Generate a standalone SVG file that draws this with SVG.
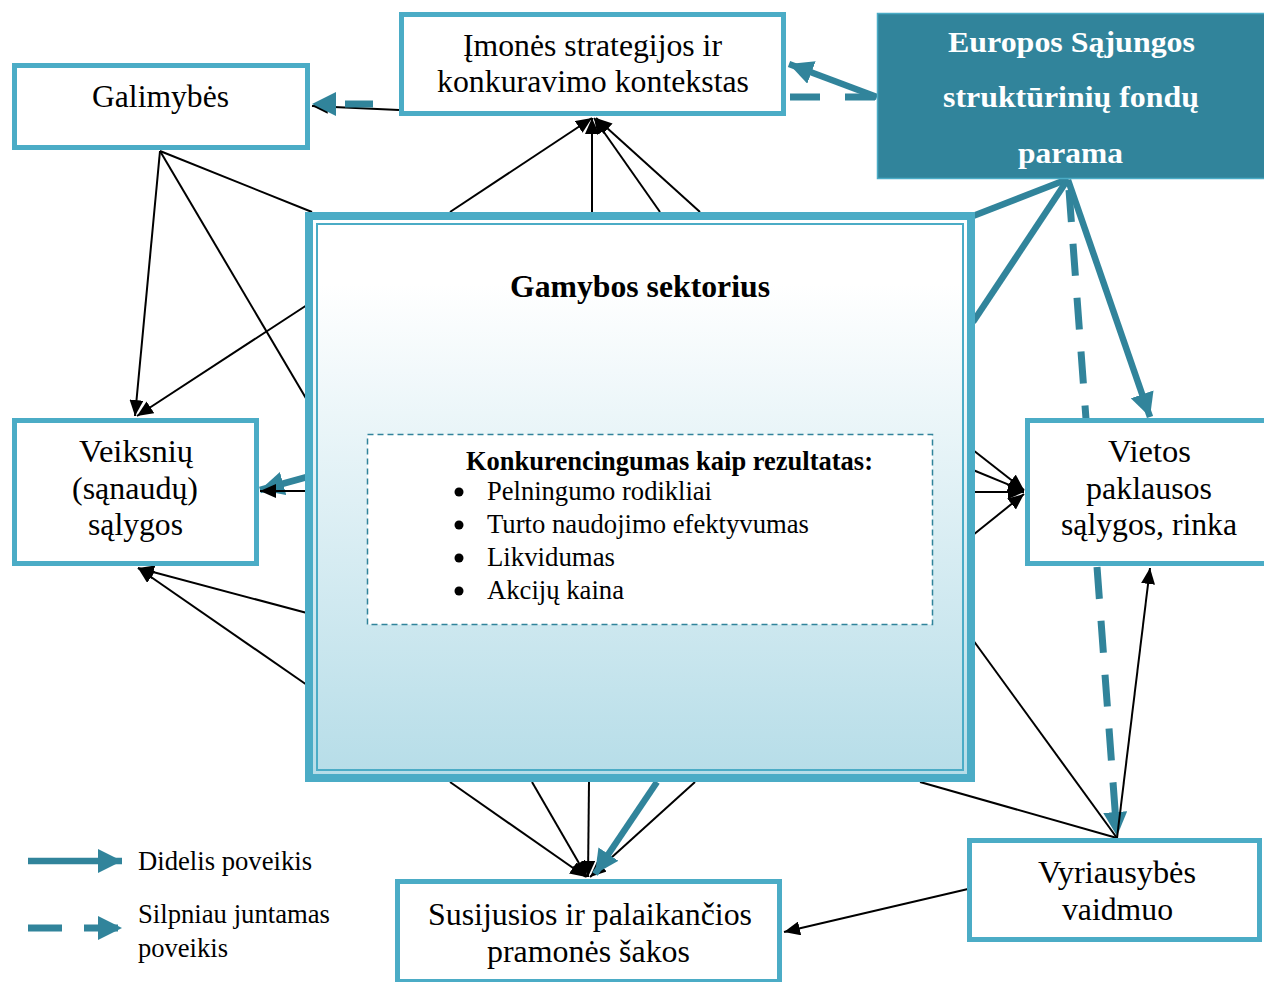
<svg xmlns="http://www.w3.org/2000/svg" width="1264" height="982" viewBox="0 0 1264 982">
  <style>
    .lbl { font-family: "Liberation Serif", "Times New Roman", serif; font-size: 32px; fill: #000; text-anchor: middle; }
    .hd { font-family: "Liberation Serif", "Times New Roman", serif; font-weight: bold; fill: #000; }
    .li { font-family: "Liberation Serif", "Times New Roman", serif; font-size: 28px; fill: #000; }
    .eu { font-family: "Liberation Serif", "Times New Roman", serif; font-weight: bold; font-size: 30px; fill: #fff; text-anchor: middle; }
    .box { fill: #fff; stroke: #4BACC6; stroke-width: 5; }
    .thin { stroke: #000; stroke-width: 2; fill: none; }
    .thick { stroke: #31849B; stroke-width: 6.5; fill: none; }
    .dash { stroke: #31849B; stroke-width: 7; stroke-dasharray: 32 22; fill: none; }
  </style>
  <defs>
    <marker id="ab" viewBox="0 0 16 14" markerWidth="16" markerHeight="14" refX="16" refY="7" orient="auto" markerUnits="userSpaceOnUse">
      <path d="M0,0 L16,7 L0,14 z" fill="#000"/>
    </marker>
    <marker id="at" viewBox="0 0 24 24" markerWidth="24" markerHeight="24" refX="24" refY="12" orient="auto" markerUnits="userSpaceOnUse">
      <path d="M0,0 L24,12 L0,24 z" fill="#31849B"/>
    </marker>
    <linearGradient id="sector" x1="0" y1="0" x2="0" y2="1">
      <stop offset="0" stop-color="#ffffff"/>
      <stop offset="0.12" stop-color="#ffffff"/>
      <stop offset="1" stop-color="#B6DDE8"/>
    </linearGradient>
  </defs>

  <!-- connectors -->
  <g id="connectors">
    <!-- strategy -> opportunities -->
    <line class="thin" x1="399" y1="110" x2="312" y2="106" marker-end="url(#ab)"/>
    <line class="dash" x1="373" y1="104" x2="312" y2="104" style="stroke-dasharray:28 60" marker-end="url(#at)"/>
    <!-- EU funds -> strategy -->
    <line class="thick" x1="877" y1="97" x2="789" y2="64" marker-end="url(#at)"/>
    <line class="dash" x1="875" y1="97" x2="790" y2="97" style="stroke-dasharray:30 25"/>
    <!-- sector -> strategy -->
    <line class="thin" x1="450" y1="212" x2="592" y2="118" marker-end="url(#ab)"/>
    <line class="thin" x1="592" y1="212" x2="592" y2="118" marker-end="url(#ab)"/>
    <line class="thin" x1="660" y1="212" x2="594" y2="118" marker-end="url(#ab)"/>
    <line class="thin" x1="700" y1="212" x2="596" y2="118" marker-end="url(#ab)"/>
    <!-- opportunities -> factor conditions / sector -->
    <line class="thin" x1="160" y1="151" x2="135" y2="416" marker-end="url(#ab)"/>
    <line class="thin" x1="160" y1="151" x2="312" y2="212"/>
    <line class="thin" x1="160" y1="151" x2="307" y2="400"/>
    <!-- sector -> factor conditions -->
    <line class="thin" x1="307" y1="305" x2="137" y2="416" marker-end="url(#ab)"/>
    <line class="thick" x1="307" y1="477" x2="260" y2="490" marker-end="url(#at)"/>
    <line class="thin" x1="307" y1="491" x2="260" y2="491" marker-end="url(#ab)"/>
    <line class="thin" x1="307" y1="613" x2="138" y2="568" marker-end="url(#ab)"/>
    <line class="thin" x1="307" y1="685" x2="138" y2="568" marker-end="url(#ab)"/>
    <!-- sector -> demand conditions -->
    <line class="thin" x1="973" y1="450" x2="1024" y2="490" marker-end="url(#ab)"/>
    <line class="thin" x1="973" y1="470" x2="1024" y2="491" marker-end="url(#ab)"/>
    <line class="thin" x1="973" y1="492" x2="1024" y2="492" marker-end="url(#ab)"/>
    <line class="thin" x1="973" y1="535" x2="1024" y2="494" marker-end="url(#ab)"/>
    <!-- EU funds -> sector -->
    <line class="thick" x1="973" y1="216" x2="1068" y2="179"/>
    <line class="thick" x1="973" y1="322" x2="1068" y2="179"/>
    <!-- EU funds -> demand conditions -->
    <line class="thick" x1="1068" y1="180" x2="1150" y2="417" marker-end="url(#at)"/>
    <!-- EU funds -> government -->
    <line class="dash" x1="1069" y1="190" x2="1117" y2="836" marker-end="url(#at)"/>
    <!-- government -> demand conditions -->
    <line class="thin" x1="1117" y1="838" x2="1150" y2="568" marker-end="url(#ab)"/>
    <!-- sector -> government -->
    <line class="thin" x1="973" y1="640" x2="1117" y2="838"/>
    <line class="thin" x1="920" y1="782" x2="1117" y2="838"/>
    <!-- government -> related industries -->
    <line class="thin" x1="968" y1="889" x2="784" y2="932" marker-end="url(#ab)"/>
    <!-- sector -> related industries -->
    <line class="thin" x1="450" y1="782" x2="586" y2="877" marker-end="url(#ab)"/>
    <line class="thin" x1="532" y1="782" x2="587" y2="877" marker-end="url(#ab)"/>
    <line class="thin" x1="589" y1="782" x2="588" y2="877" marker-end="url(#ab)"/>
    <line class="thin" x1="695" y1="782" x2="590" y2="877" marker-end="url(#ab)"/>
    <line class="thick" x1="657" y1="782" x2="595" y2="874" marker-end="url(#at)"/>
  </g>

  <!-- nodes -->
  <g id="strategy">
    <rect class="box" x="401.5" y="14.5" width="382" height="99"/>
    <text class="lbl" x="592.5" y="56" textLength="259" lengthAdjust="spacingAndGlyphs">Įmonės strategijos ir</text>
    <text class="lbl" x="593" y="92" textLength="312" lengthAdjust="spacingAndGlyphs">konkuravimo kontekstas</text>
  </g>

  <g id="opportunities">
    <rect class="box" x="14.5" y="65.5" width="293" height="82"/>
    <text class="lbl" x="160.5" y="107" textLength="137" lengthAdjust="spacingAndGlyphs">Galimybės</text>
  </g>

  <g id="eu-funds">
    <rect x="877.5" y="13.5" width="388" height="165" fill="#31849B" stroke="#4BACC6" stroke-width="1.5"/>
    <text class="eu" x="1071.5" y="52" textLength="247" lengthAdjust="spacingAndGlyphs">Europos Sąjungos</text>
    <text class="eu" x="1071" y="107" textLength="256" lengthAdjust="spacingAndGlyphs">struktūrinių fondų</text>
    <text class="eu" x="1070.5" y="163" textLength="105" lengthAdjust="spacingAndGlyphs">parama</text>
  </g>

  <g id="sector">
    <rect x="309" y="216" width="662" height="562" fill="url(#sector)" stroke="#4BACC6" stroke-width="8"/>
    <rect x="317" y="224" width="646" height="546" fill="none" stroke="#4BACC6" stroke-width="2"/>
    <text class="hd" x="640" y="297" font-size="31" text-anchor="middle" textLength="260" lengthAdjust="spacingAndGlyphs">Gamybos sektorius</text>
  </g>

  <g id="competitiveness">
    <rect x="367.5" y="434.5" width="565" height="190" fill="#fff" stroke="#31849B" stroke-width="1.5" stroke-dasharray="6 4"/>
    <text class="hd" x="466" y="470" font-size="28" textLength="407" lengthAdjust="spacingAndGlyphs">Konkurencingumas kaip rezultatas:</text>
    <circle cx="459" cy="492" r="4.5" fill="#000"/>
    <circle cx="459" cy="525" r="4.5" fill="#000"/>
    <circle cx="459" cy="558" r="4.5" fill="#000"/>
    <circle cx="459" cy="591" r="4.5" fill="#000"/>
    <text class="li" x="487" y="500" textLength="225" lengthAdjust="spacingAndGlyphs">Pelningumo rodikliai</text>
    <text class="li" x="487" y="533" textLength="322" lengthAdjust="spacingAndGlyphs">Turto naudojimo efektyvumas</text>
    <text class="li" x="487" y="566" textLength="128" lengthAdjust="spacingAndGlyphs">Likvidumas</text>
    <text class="li" x="487" y="599" textLength="137" lengthAdjust="spacingAndGlyphs">Akcijų kaina</text>
  </g>

  <g id="factor-conditions">
    <rect class="box" x="14.5" y="420.5" width="242" height="143"/>
    <text class="lbl" x="136" y="462" textLength="114" lengthAdjust="spacingAndGlyphs">Veiksnių</text>
    <text class="lbl" x="135" y="499" textLength="126" lengthAdjust="spacingAndGlyphs">(sąnaudų)</text>
    <text class="lbl" x="135.5" y="535" textLength="95" lengthAdjust="spacingAndGlyphs">sąlygos</text>
  </g>

  <g id="demand-conditions">
    <rect class="box" x="1027.5" y="420.5" width="240" height="143"/>
    <text class="lbl" x="1149.5" y="462" textLength="83" lengthAdjust="spacingAndGlyphs">Vietos</text>
    <text class="lbl" x="1149" y="499" textLength="126" lengthAdjust="spacingAndGlyphs">paklausos</text>
    <text class="lbl" x="1149" y="535" textLength="176" lengthAdjust="spacingAndGlyphs">sąlygos, rinka</text>
  </g>

  <g id="government">
    <rect class="box" x="969.5" y="840.5" width="290" height="99"/>
    <text class="lbl" x="1117" y="883" textLength="158" lengthAdjust="spacingAndGlyphs">Vyriausybės</text>
    <text class="lbl" x="1117.5" y="920" textLength="111" lengthAdjust="spacingAndGlyphs">vaidmuo</text>
  </g>

  <g id="related-industries">
    <rect class="box" x="397.5" y="881.5" width="382" height="100"/>
    <text class="lbl" x="590" y="925" textLength="324" lengthAdjust="spacingAndGlyphs">Susijusios ir palaikančios</text>
    <text class="lbl" x="588.5" y="962" textLength="203" lengthAdjust="spacingAndGlyphs">pramonės šakos</text>
  </g>

  <g id="legend">
    <line class="thick" x1="28" y1="861" x2="122" y2="861" marker-end="url(#at)"/>
    <line class="dash" x1="28" y1="928" x2="122" y2="928" style="stroke-dasharray:34 22" marker-end="url(#at)"/>
    <text class="li" x="138" y="870" font-size="27" textLength="174" lengthAdjust="spacingAndGlyphs">Didelis poveikis</text>
    <text class="li" x="138" y="923" font-size="27" textLength="192" lengthAdjust="spacingAndGlyphs">Silpniau juntamas</text>
    <text class="li" x="138" y="957" font-size="27" textLength="90" lengthAdjust="spacingAndGlyphs">poveikis</text>
  </g>
</svg>
